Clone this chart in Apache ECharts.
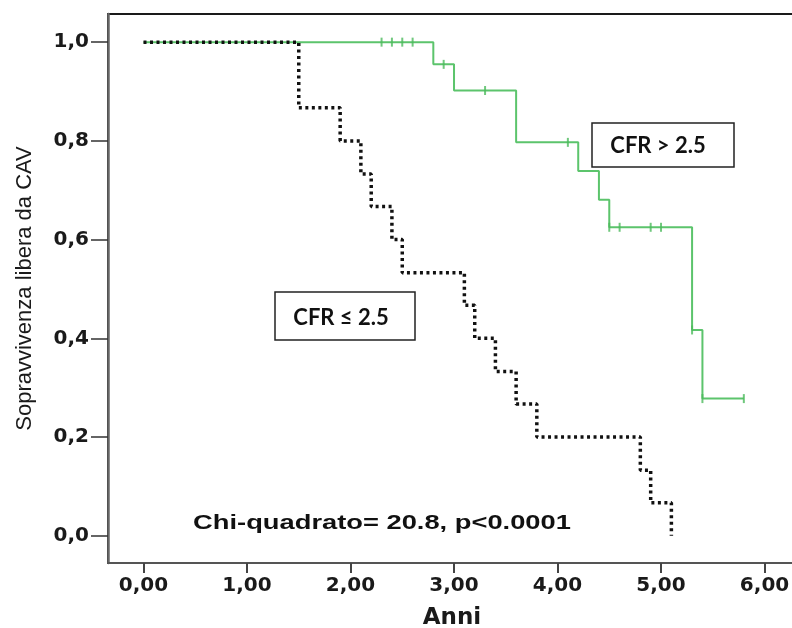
<!DOCTYPE html>
<html>
<head>
<meta charset="utf-8">
<script src="https://cdn.jsdelivr.net/npm/echarts@6/dist/echarts.min.js"></script>
<style>
  html, body { margin: 0; padding: 0; background: #fff; }
  #chart { width: 792px; height: 628px; }
</style>
</head>
<body>
<div id="chart"></div>
<script>
// Kaplan-Meier estimates: [time in years, survival after that time]
const cfrHigh = [[0, 1], [2.8, 0.955], [3.0, 0.902], [3.6, 0.797], [4.2, 0.739],
                 [4.4, 0.681], [4.5, 0.625], [5.3, 0.417], [5.4, 0.278], [5.8, 0.278]];
const cfrHighCensored = [[2.3, 1], [2.4, 1], [2.5, 1], [2.6, 1], [2.9, 0.955], [3.3, 0.902],
                         [4.1, 0.797], [4.5, 0.625], [4.6, 0.625], [4.9, 0.625], [5.0, 0.625],
                         [5.3, 0.417], [5.4, 0.278], [5.8, 0.278]];
const cfrLow = [[0, 1], [1.5, 0.867], [1.9, 0.8], [2.1, 0.733], [2.2, 0.667], [2.4, 0.6],
                [2.5, 0.533], [3.1, 0.467], [3.2, 0.4], [3.4, 0.333], [3.6, 0.267],
                [3.8, 0.2], [4.8, 0.133], [4.9, 0.067], [5.1, 0]];
const xTicks = [0, 1, 2, 3, 4, 5, 6];
const yTicks = [0, 0.2, 0.4, 0.6, 0.8, 1.0];
const labelHigh = 'CFR > 2.5';
const labelLow = 'CFR \u2264 2.5';
const testText = 'Chi-quadrato= 20.8, p<0.0001';

const chart = echarts.init(document.getElementById('chart'), null, { renderer: 'canvas' });
const tickFont = { fontFamily: 'DejaVu Sans, sans-serif', fontWeight: 'bold', fontSize: 20, color: '#1a1a1a' };

chart.setOption({
  animation: false,
  backgroundColor: '#fff',
  grid: { left: 108, top: 14, right: -4, bottom: 65, containLabel: false, outerBoundsMode: 'none',
          show: true, borderColor: '#1a1a1a', borderWidth: 2, backgroundColor: 'transparent' },
  xAxis: {
    type: 'value', min: -0.343, max: 6.304,
    name: 'Anni', nameLocation: 'middle', nameGap: 44,
    nameTextStyle: { fontFamily: 'DejaVu Sans, sans-serif', fontWeight: 'bold', fontSize: 23, color: '#1a1a1a' },
    axisLine: { show: true, onZero: false, lineStyle: { color: '#555', width: 2 } },
    axisTick: { show: true, length: 10, customValues: xTicks, lineStyle: { color: '#444', width: 2 } },
    axisLabel: Object.assign({ customValues: xTicks, margin: 13,
      formatter: v => v.toFixed(2).replace('.', ',') }, tickFont),
    splitLine: { show: false }
  },
  yAxis: {
    type: 'value', min: -0.055, max: 1.057,
    name: 'Sopravvivenza libera da CAV', nameLocation: 'middle', nameGap: 72, nameRotate: 90,
    nameTextStyle: { fontFamily: 'Liberation Sans Narrow, Arial Narrow, sans-serif', fontSize: 22, color: '#1a1a1a' },
    axisLine: { show: true, onZero: false, lineStyle: { color: '#666', width: 2.5 } },
    axisTick: { show: true, length: 17, customValues: yTicks, lineStyle: { color: '#333', width: 1.5 } },
    axisLabel: Object.assign({ customValues: yTicks, margin: 19,
      formatter: v => v.toFixed(1).replace('.', ',') }, tickFont),
    splitLine: { show: false }
  },
  series: [
    {
      name: labelHigh, type: 'line', step: 'end', data: cfrHigh, showSymbol: false, z: 2,
      lineStyle: { color: '#5cc46c', width: 2 }
    },
    {
      name: labelHigh + ' censurati', type: 'scatter', data: cfrHighCensored, z: 3,
      symbol: 'rect', symbolSize: [2, 9], itemStyle: { color: '#4cba5c' }
    },
    {
      name: labelLow, type: 'line', step: 'end', data: cfrLow, showSymbol: false, z: 4,
      lineStyle: { color: '#111', width: 3.5, type: [3, 3.5] }
    }
  ],
  graphic: [
    { type: 'rect', shape: { x: 592, y: 123, width: 142, height: 44 },
      style: { fill: '#fff', stroke: '#222', lineWidth: 1.5 }, z: 10 },
    { type: 'text', x: 658, y: 146, z: 11,
      style: { text: labelHigh, font: 'bold 22px Lato, "Open Sans", sans-serif', fill: '#111', align: 'center', verticalAlign: 'middle' } },
    { type: 'rect', shape: { x: 275, y: 292, width: 140, height: 48 },
      style: { fill: '#fff', stroke: '#222', lineWidth: 1.5 }, z: 10 },
    { type: 'text', x: 341, y: 318, z: 11,
      style: { text: labelLow, font: 'bold 22px Lato, "Open Sans", sans-serif', fill: '#111', align: 'center', verticalAlign: 'middle' } },
    { type: 'text', x: 382, y: 523, scaleX: 1.3, z: 11,
      style: { text: testText, font: 'bold 21px "Liberation Sans", Arial, sans-serif', fill: '#111', align: 'center', verticalAlign: 'middle' } }
  ]
});
</script>
</body>
</html>
